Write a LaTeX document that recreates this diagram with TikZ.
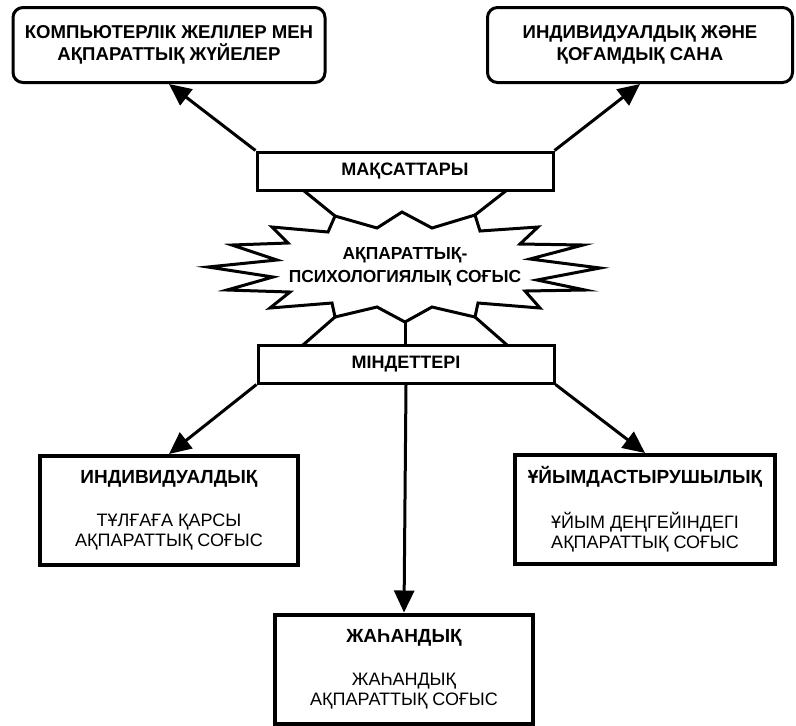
\documentclass[tikz,border=0pt]{standalone}
\usepackage{fontspec}
\setmainfont{Liberation Sans}
\usetikzlibrary{arrows.meta,calc}

\tikzset{
  goalbox/.style={draw, line width=1.5pt, rounded corners=5pt, inner sep=0pt,
    align=center, font=\fontsize{9.3}{11}\selectfont\bfseries},
  barbox/.style={draw, line width=1.5pt, inner sep=0pt, minimum width=148pt,
    minimum height=19pt, font=\fontsize{9}{11}\selectfont\bfseries},
  taskbox/.style={draw, line width=2pt, inner sep=0pt, align=center,
    minimum width=129pt, minimum height=54.5pt, font=\fontsize{9}{10}\selectfont},
  arr/.style={line width=1.5pt, -{Triangle[length=11pt,width=10pt]}},
}

\begin{document}
\begin{tikzpicture}[x=0.5pt, y=-0.5pt]
        \useasboundingbox (0,0) rectangle (796,725);

        % goals
        \node[goalbox, minimum width=156pt, minimum height=37.5pt] (komp) at (169,45)
            {КОМПЬЮТЕРЛІК ЖЕЛІЛЕР МЕН\\АҚПАРАТТЫҚ ЖҮЙЕЛЕР};
        \node[goalbox, minimum width=152.5pt, minimum height=37.5pt] (sana) at (640,45)
            {ИНДИВИДУАЛДЫҚ ЖӘНЕ\\ҚОҒАМДЫҚ САНА};

        \node[barbox] (maks) at (405,171) {МАҚСАТТАРЫ};
        \node[barbox] (mind) at (406,364) {МІНДЕТТЕРІ};

        % the burst
        \draw[line width=1.5pt, line join=miter, fill=white]
            (335,216) -- (377,228) -- (402,212) -- (432,228) -- (475,215)
            -- (480,231) -- (538,227) -- (520,244) -- (583,245) -- (530,259)
            -- (600,268) -- (537,280) -- (585,290) -- (525,291) -- (540,308)
            -- (478,303) -- (475,317) -- (432,307) -- (405,322) -- (377,307)
            -- (335,317) -- (332,303) -- (270,308) -- (290,292) -- (227,290)
            -- (273,277) -- (208,267) -- (277,260) -- (232,245) -- (288,243)
            -- (272,227) -- (328,232) -- cycle;
        \draw[line width=1.5pt] (303,190) -- (335,216);
        \draw[line width=1.5pt] (507,190) -- (475,215);
        \draw[line width=1.5pt] (303,345) -- (335,317);
        \draw[line width=1.5pt] (507,345) -- (475,317);
        \draw[line width=1.5pt] (405,322) -- (405,345);
        \node[align=center, inner sep=0pt, font=\fontsize{8.7}{11.5}\selectfont\bfseries] (war)
            at (405,267) {АҚПАРАТТЫҚ-\\ПСИХОЛОГИЯЛЫҚ СОҒЫС};

        % tasks
        \node[taskbox] (indiv) at (169,510.5)
            {\fontsize{9.5}{10}\selectfont\textbf{ИНДИВИДУАЛДЫҚ}\\[11.5pt]ТҰЛҒАҒА ҚАРСЫ\\АҚПАРАТТЫҚ СОҒЫС};
        \node[taskbox, minimum width=130pt] (uyim) at (645,509.5)
            {\fontsize{9.5}{10}\selectfont\textbf{ҰЙЫМДАСТЫРУШЫЛЫҚ}\\[11.5pt]ҰЙЫМ ДЕҢГЕЙІНДЕГІ\\АҚПАРАТТЫҚ СОҒЫС};
        \node[taskbox] (zhah) at (404,669)
            {\fontsize{9.5}{10}\selectfont\textbf{ЖАҺАНДЫҚ}\\[11.5pt]ЖАҺАНДЫҚ\\АҚПАРАТТЫҚ СОҒЫС};

        \draw[arr] (maks.north west) -- (komp.south);
        \draw[arr] (maks.north east) -- (sana.south);
        \draw[arr] (mind.south west) -- (indiv.north);
        \draw[arr] (mind.south east) -- (uyim.north);
        \draw[arr] (mind.south) -- (zhah.north);
\end{tikzpicture}
\end{document}
